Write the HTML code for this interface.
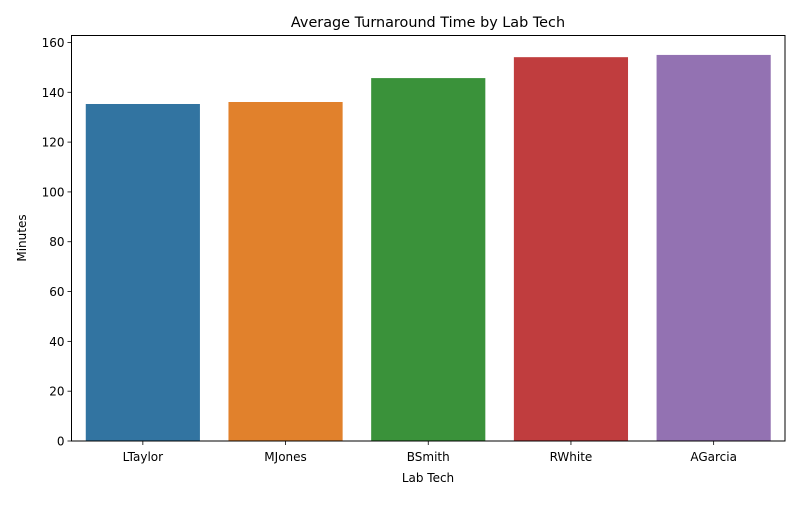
<!DOCTYPE html>
<html><head><meta charset="utf-8"><style>
body{margin:0;background:#fff;width:800px;height:500px;overflow:hidden}
svg{font-family:"DejaVu Sans","Liberation Sans",sans-serif}
</style></head><body>
<svg id="chart" width="800" height="500">
<rect width="800" height="500" fill="#fff"/>
<text x="428" y="27" text-anchor="middle" font-size="14.4">Average Turnaround Time by Lab Tech</text>
<g id="bars"></g><g id="axes"></g>
<text x="428" y="482" text-anchor="middle" font-size="12">Lab Tech</text>
<text transform="translate(26,238) rotate(-90)" text-anchor="middle" font-size="12">Minutes</text>
</svg>
<script>
const categories=["LTaylor","MJones","BSmith","RWhite","AGarcia"];
const values=[135.3,136.1,145.7,154.1,155.0];
const colors=["#3274a1","#e1812c","#3a923a","#c03d3e","#9372b2"];
const yTicks=[0,20,40,60,80,100,120,140,160];
const L=71.5,R=785,T=35.5,B=441,yMax=162.8;
const NS="http://www.w3.org/2000/svg";
function y(v){return B-(v/yMax)*(B-T);}
const bw=(R-L)/categories.length;
function x(i){return L+bw*(i+0.5);}
function mk(t,a,p){const e=document.createElementNS(NS,t);for(const k in a)e.setAttribute(k,a[k]);p.appendChild(e);return e;}
const bars=document.getElementById('bars'),axes=document.getElementById('axes');
values.forEach((v,i)=>{
 const r=mk('rect',{x:x(i)-bw*0.4,y:y(v),width:bw*0.8,height:B-y(v),fill:colors[i]},bars);
 
 
 mk('line',{x1:x(i),x2:x(i),y1:B,y2:B+4,stroke:'#000','stroke-width':0.8},axes);
 const t=mk('text',{x:x(i),y:B+20,'text-anchor':'middle','font-size':12},axes);
 t.textContent=categories[i];
 
 
});
yTicks.forEach(v=>{
 mk('line',{x1:L-4,x2:L,y1:y(v),y2:y(v),stroke:'#000','stroke-width':0.8},axes);
 const t=mk('text',{x:L-7,y:y(v)+4.5,'text-anchor':'end','font-size':12},axes);
 t.textContent=v;
 
 
});
const f=mk('rect',{x:L,y:T,width:R-L,height:B-T,fill:'none',stroke:'#000','stroke-width':1},axes);


</script>
</body></html>
